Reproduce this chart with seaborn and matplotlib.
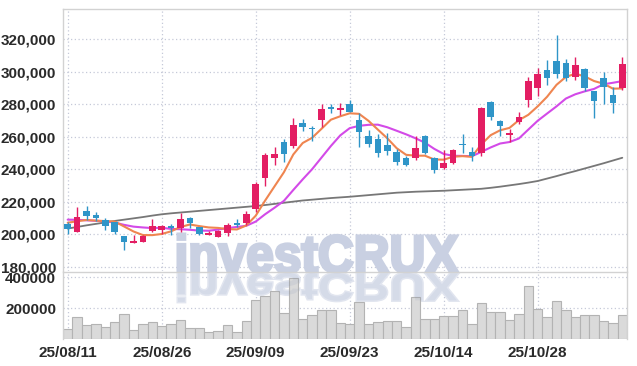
import numpy as np
import pandas as pd
import matplotlib
matplotlib.use("Agg")
import matplotlib.pyplot as plt
import seaborn as sns
from matplotlib import font_manager as fm
from matplotlib.textpath import TextPath
from matplotlib.patches import PathPatch
from matplotlib.transforms import Affine2D, IdentityTransform
from matplotlib.font_manager import FontProperties

# ---------------- data ----------------
dates = ["25/08/11", "25/08/12", "25/08/13", "25/08/14", "25/08/18", "25/08/19", "25/08/20", "25/08/21",
         "25/08/22", "25/08/25", "25/08/26", "25/08/27", "25/08/28", "25/08/29", "25/09/01", "25/09/02",
         "25/09/03", "25/09/04", "25/09/05", "25/09/08", "25/09/09", "25/09/10", "25/09/11", "25/09/12",
         "25/09/15", "25/09/16", "25/09/17", "25/09/18", "25/09/19", "25/09/22", "25/09/23", "25/09/24",
         "25/09/25", "25/09/26", "25/09/29", "25/09/30", "25/10/01", "25/10/02", "25/10/10", "25/10/13",
         "25/10/14", "25/10/15", "25/10/16", "25/10/17", "25/10/20", "25/10/21", "25/10/22", "25/10/23",
         "25/10/24", "25/10/27", "25/10/28", "25/10/29", "25/10/30", "25/10/31", "25/11/03", "25/11/04",
         "25/11/05", "25/11/06", "25/11/07", "25/11/10"]

open_ = [206300, 201600, 214300, 211900, 208800, 207400, 198950, 194830, 195450, 202220,
         202830, 205110, 203690, 209850, 204500, 199750, 198520, 200980, 206950, 207140,
         215570, 234460, 247140, 256990, 254520, 268500, 265600, 270340, 278530, 276680,
         280190, 270340, 260500, 258650, 254950, 250830, 247140, 246770, 260500, 246650,
         240990, 243690, 255750, 250650, 250220, 281420, 269540, 261290, 269290, 282650,
         289850, 301110, 306650, 305230, 296990, 301540, 288190, 296370, 285730, 289850]
high = [207600, 216600, 217400, 213500, 209900, 207800, 198950, 199570, 199500, 209230,
        205500, 206150, 212920, 210830, 204700, 201850, 202650, 207140, 209420, 214520,
        232370, 250220, 253540, 258460, 271390, 270770, 266650, 280000, 280190, 280990,
        282650, 274460, 264190, 261540, 262160, 252310, 248190, 260680, 261110, 247570,
        251880, 252310, 261720, 253540, 278340, 282220, 270340, 264800, 275260, 296990,
        302530, 307260, 322650, 307690, 309300, 302160, 288190, 300060, 290830, 309300]
low = [200000, 201100, 208800, 208180, 202650, 200000, 190340, 194830, 195000, 201400,
       200000, 199570, 201600, 203880, 199570, 199380, 198150, 199140, 204680, 205720,
       213910, 229910, 242650, 244310, 252920, 263760, 257420, 266220, 274830, 273420,
       275260, 253540, 253910, 247390, 248800, 242650, 242030, 245720, 249420, 237540,
       240000, 243260, 249850, 245290, 248190, 270340, 260500, 256620, 267690, 278530,
       285110, 291880, 296370, 294340, 294960, 288370, 271760, 280190, 274460, 288800]
close = [203080, 210650, 211450, 210220, 205290, 201600, 195450, 196060, 199140, 205110,
         205110, 203690, 209420, 206770, 200200, 200980, 202220, 205720, 205720, 212490,
         230950, 248800, 249420, 249230, 267260, 266220, 264800, 277110, 277300, 277910,
         275260, 263140, 255570, 250220, 251260, 244680, 242830, 252920, 250220, 239570,
         244060, 251880, 254770, 248190, 277910, 272370, 266830, 262160, 272000, 294340,
         298460, 296370, 298830, 296370, 304190, 290220, 282030, 290830, 280990, 304800]
volume = [62600, 142000, 88400, 96800, 75500, 107700, 159400, 56100, 94800, 107700,
          83900, 94800, 120600, 69000, 69000, 43200, 49700, 88400, 43200, 114200,
          249700, 277400, 307700, 167700, 393500, 127100, 152900, 185200, 185200, 103200,
          96800, 238700, 96800, 107700, 114200, 114200, 77400, 271000, 129000, 129000,
          148400, 148400, 187100, 96800, 232300, 172300, 172300, 120600, 161300, 340000,
          193500, 141900, 243200, 187100, 141900, 154800, 154800, 114200, 101300, 154800]
# moving-average values at the start of the window (prior data not shown)
ma5_head = [207100, 208000, 208800, 208400]
ma10_head = [209000, 208900, 208600, 208300, 208000, 207200, 205800, 204700, 204200]
# long moving average (grey line)
ma_long = [203500, 204500, 205500, 206400, 207300, 208200, 209000, 209800, 210600, 211500,
           212300, 212900, 213400, 213900, 214400, 214900, 215400, 215900, 216400, 216900,
           217400, 218000, 218700, 219400, 220100, 220800, 221300, 221800, 222300, 222700,
           223100, 223600, 224100, 224600, 225100, 225600, 225900, 226200, 226400, 226600,
           226800, 227100, 227400, 227700, 228000, 228600, 229300, 230100, 230900, 231800,
           232800, 234300, 235800, 237400, 238900, 240500, 242100, 243700, 245400, 247100]
label_every = 10
price_ticks = [180000, 200000, 220000, 240000, 260000, 280000, 300000, 320000]
vol_ticks = [200000, 400000]
watermark = "investCRUX"

# ---------------- style ----------------
sns.set_theme(style="white")
names = {f.name for f in fm.fontManager.ttflist}
FONT = "Liberation Sans Narrow" if "Liberation Sans Narrow" in names else "Liberation Sans"
plt.rcParams["font.family"] = [FONT, "DejaVu Sans"]

UP = "#e31e63"
DOWN = "#2f95c8"
GRID = "#c5c9d8"
SPINE = "#d2d2d2"
TXT = "#2a2a2a"

df = pd.DataFrame({"date": dates, "open": open_, "high": high, "low": low,
                   "close": close, "volume": volume, "ma_long": ma_long})
df["idx"] = np.arange(len(df))
ma5 = df["close"].rolling(5).mean()
ma5.iloc[:len(ma5_head)] = ma5_head
ma10 = df["close"].rolling(10).mean()
ma10.iloc[:len(ma10_head)] = ma10_head
df["ma5"] = ma5
df["ma10"] = ma10

W, H = 637, 366
fig = plt.figure(figsize=(W / 100, H / 100), dpi=100)
fig.patch.set_facecolor("white")
L, R = 63, 627
ax_p = fig.add_axes([L / W, 1 - 270.5 / H, (R - L) / W, (270.5 - 9.3) / H])
ax_v = fig.add_axes([L / W, 1 - 339 / H, (R - L) / W, (339 - 272) / H])

# ---------------- price panel ----------------
sns.lineplot(data=df, x="idx", y="ma_long", ax=ax_p, color="#777777", linewidth=1.3, zorder=2)
sns.lineplot(data=df, x="idx", y="ma10", ax=ax_p, color="#d34ae8", linewidth=1.5, zorder=2)
sns.lineplot(data=df, x="idx", y="ma5", ax=ax_p, color="#ef8550", linewidth=1.5, zorder=2)

up = df["close"] >= df["open"]
colors = np.where(up, UP, DOWN)
body_lo = np.minimum(df["open"], df["close"])
body_h = np.maximum(np.abs(df["close"] - df["open"]), 700)
ax_p.vlines(df["idx"], df["low"], df["high"], colors=colors, linewidth=1.0, zorder=3)
ax_p.bar(df["idx"], body_h, bottom=body_lo, width=0.72, color=colors, linewidth=0, zorder=4)

ax_p.set_xlim(-0.5, len(df) - 0.5)
ax_p.set_ylim(177700, 338500)
ax_p.set_yticks(price_ticks)
ax_p.set_yticklabels([f"{v:,}" for v in price_ticks])
tick_pos = list(range(0, len(df), label_every))
ax_p.set_xticks(tick_pos)
ax_p.set_xticklabels([])
ax_p.set_xlabel("")
ax_p.set_ylabel("")
ax_p.grid(True, color=GRID, linestyle=(0, (1, 2)), linewidth=0.9)
ax_p.set_axisbelow(True)
ax_p.tick_params(axis="both", length=0, pad=5, labelsize=11, labelcolor=TXT)
for lab in ax_p.get_yticklabels():
    lab.set_fontweight("bold")
for s in ["left", "top", "right"]:
    ax_p.spines[s].set_color(SPINE)
    ax_p.spines[s].set_linewidth(1.0)
ax_p.spines["bottom"].set_visible(False)

# ---------------- volume panel ----------------
sns.barplot(data=df, x="idx", y="volume", ax=ax_v, color="#dadada", saturation=1,
            width=1.0, edgecolor="#b3b3b3", linewidth=0.8, zorder=2)
ax_v.set_xlim(-0.5, len(df) - 0.5)
ax_v.set_ylim(0, 432300)
ax_v.set_yticks(vol_ticks)
ax_v.set_yticklabels([str(v) for v in vol_ticks])
ax_v.set_xticks(tick_pos)
ax_v.set_xticklabels([dates[i] for i in tick_pos])
ax_v.set_xlabel("")
ax_v.set_ylabel("")
ax_v.grid(True, color=GRID, linestyle=(0, (1, 2)), linewidth=0.9)
ax_v.set_axisbelow(True)
ax_v.tick_params(axis="both", length=0, pad=5, labelsize=11, labelcolor=TXT)
for lab in ax_v.get_yticklabels() + ax_v.get_xticklabels():
    lab.set_fontweight("bold")
for s in ["left", "top", "right"]:
    ax_v.spines[s].set_color(SPINE)
    ax_v.spines[s].set_linewidth(1.0)
ax_v.spines["bottom"].set_visible(False)

# ---------------- watermark ----------------
fp = FontProperties(family=FONT, weight="bold")
tp = TextPath((0, 0), watermark, size=60, prop=fp)
bb = tp.get_extents()
x0, base_y, tw, th = 178, 273, 280, 39
sx, sy = tw / bb.width, th / bb.height
tr_up = Affine2D().translate(-bb.x0, -bb.y0).scale(sx, sy).translate(x0, H - base_y)
p_up = tr_up.transform_path(tp)
ax_p.add_patch(PathPatch(p_up, facecolor="#c9d0e2", edgecolor="#c9d0e2", linewidth=2.2,
                         transform=IdentityTransform(), clip_on=False, zorder=1.5))
tr_dn = Affine2D().translate(-bb.x0, -bb.y0).scale(sx, -sy * 0.74).translate(x0, H - base_y)
p_dn = tr_dn.transform_path(tp)
ax_v.add_patch(PathPatch(p_dn, facecolor="#e1e5ef", edgecolor="#e1e5ef", linewidth=2.2,
                         transform=IdentityTransform(), zorder=1.5))
ax_v.add_patch(PathPatch(p_dn, facecolor="#3b5998", edgecolor="none", alpha=0.07,
                         transform=IdentityTransform(), zorder=3))

fig.savefig("out.png", dpi=100, facecolor="white")
